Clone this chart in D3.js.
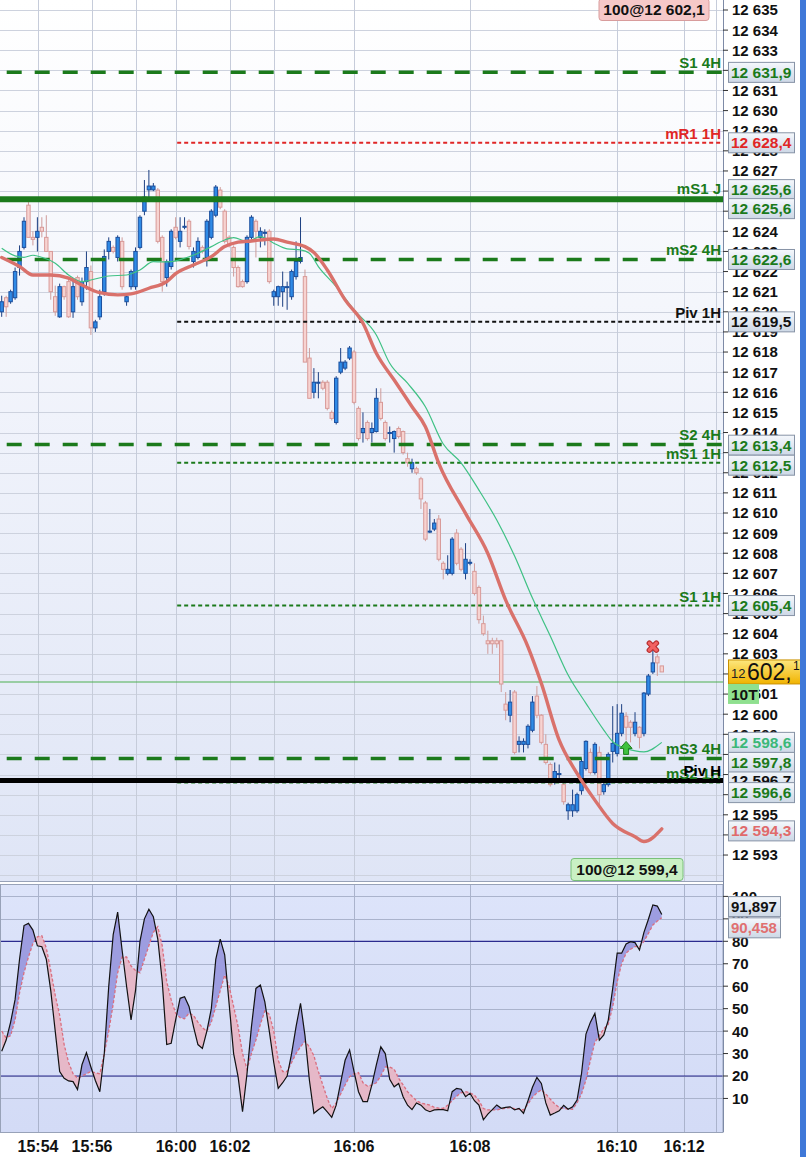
<!DOCTYPE html>
<html>
<head>
<meta charset="utf-8">
<script src="https://cdnjs.cloudflare.com/ajax/libs/d3/7.8.5/d3.min.js"></script>
<style>
html,body{margin:0;padding:0;background:#ffffff;overflow:hidden;}
svg{display:block;}
text{font-family:"Liberation Sans",Arial,sans-serif;}
</style>
</head>
<body>
<svg id="chart" width="806" height="1157"></svg>
<script>
// ---------------- DATA ----------------
const opens=[12620.0,12620.7,12620.5,12620.7,12622.2,12623.2,12625.3,12623.7,12623.7,12624.2,
12623.7,12623.0,12620.75,12619.75,12621.25,12621.5,12620.0,12621.7,12620.5,12621.5,
12622.0,12619.2,12619.75,12621.0,12623.0,12623.2,12622.7,12623.5,12620.5,12621.25,
12621.25,12623.2,12625.0,12626.06,12626.06,12626.05,12623.7,12621.7,12622.25,12624.2,
12623.5,12624.2,12624.5,12622.5,12622.7,12623.2,12622.7,12623.7,12624.8,12626.05,
12625.0,12623.7,12623.2,12622.2,12621.5,12621.5,12623.7,12624.5,12623.7,12623.9,
12624.0,12620.75,12620.75,12621.0,12621.2,12620.75,12621.75,12622.5,12621.75,12617.7,
12616.0,12616.45,12616.5,12616.5,12615.0,12614.5,12617.0,12617.2,12617.7,12618.0,
12615.2,12614.0,12614.5,12614.0,12614.05,12615.5,12614.5,12614.0,12613.7,12614.2,
12614.05,12612.7,12612.2,12612.2,12611.7,12610.5,12609.05,12609.2,12609.7,12607.5,
12607.0,12607.0,12609.0,12608.2,12607.0,12607.5,12607.1,12606.3,12604.5,12603.65,
12603.65,12603.65,12603.65,12600.5,12599.95,12601.1,12598.5,12598.5,12598.5,12599.2,
12600.9,12599.95,12598.5,12597.5,12596.8,12597.0,12596.5,12595.2,12595.2,12595.2,
12596.2,12597.3,12598.1,12597.1,12598.1,12596.15,12596.5,12598.15,12598.05,12599.05,
12599.9,12599.6,12599.05,12599.35,12599.05,12601.0,12602.1,12602.85,12602.4];
const highs=[12620.8,12620.8,12621.1,12622.2,12623.3,12624.7,12625.5,12624.0,12624.7,12624.7,
12624.8,12623.0,12621.3,12621.4,12621.3,12621.7,12621.6,12621.8,12621.7,12623.0,
12622.3,12619.6,12621.1,12623.1,12623.7,12623.3,12623.8,12623.7,12620.9,12622.1,
12623.2,12624.8,12626.55,12627.05,12626.4,12626.15,12623.8,12622.6,12624.1,12624.7,
12624.7,12624.7,12624.6,12623.2,12623.7,12623.3,12624.6,12625.1,12626.3,12626.2,
12625.1,12623.8,12623.3,12622.3,12621.6,12623.8,12624.8,12624.6,12624.2,12624.1,
12624.1,12621.1,12621.3,12622.0,12621.5,12622.1,12623.5,12624.7,12622.1,12618.2,
12617.2,12617.0,12616.6,12616.6,12615.1,12616.8,12618.2,12617.6,12618.3,12618.1,
12615.3,12615.0,12614.6,12614.5,12616.2,12616.2,12614.6,12614.3,12614.1,12614.3,
12614.1,12613.0,12612.7,12612.3,12611.8,12610.6,12610.2,12609.7,12609.9,12607.6,
12607.9,12608.8,12609.2,12608.3,12608.5,12607.7,12607.5,12606.4,12604.9,12604.15,
12603.8,12603.8,12603.7,12601.1,12601.2,12601.2,12598.9,12598.8,12599.5,12600.9,
12601.4,12600.0,12599.0,12597.6,12597.6,12597.5,12596.6,12595.6,12596.25,12596.1,
12597.8,12598.7,12598.3,12598.6,12598.4,12596.6,12598.1,12600.4,12600.5,12600.5,
12600.1,12599.7,12600.1,12599.4,12601.1,12602.0,12603.2,12603.0,12602.4];
const lows=[12619.75,12619.75,12620.4,12620.6,12621.8,12623.1,12623.7,12623.3,12623.0,12623.7,
12623.0,12620.6,12619.8,12619.7,12620.6,12619.7,12619.7,12620.6,12620.3,12621.1,
12618.85,12619.0,12619.6,12620.8,12622.6,12622.9,12622.5,12621.1,12620.3,12621.1,
12621.1,12623.1,12624.8,12625.56,12626.0,12623.4,12621.0,12621.25,12622.1,12623.6,
12623.2,12624.1,12623.1,12622.2,12622.6,12622.9,12622.25,12623.6,12624.7,12625.1,
12623.4,12623.2,12621.75,12621.2,12621.2,12621.4,12623.6,12622.7,12623.2,12623.3,
12621.4,12620.3,12620.3,12620.25,12620.1,12620.6,12621.6,12622.4,12617.5,12615.7,
12615.7,12615.7,12616.1,12615.1,12614.6,12614.4,12616.9,12617.1,12617.6,12615.4,
12613.6,12613.5,12613.6,12613.5,12614.0,12614.6,12613.6,12613.5,12613.0,12613.7,
12612.9,12612.3,12612.0,12611.9,12610.2,12608.6,12609.0,12609.1,12607.6,12606.7,
12606.9,12606.9,12607.4,12607.1,12606.7,12607.4,12605.9,12604.5,12603.9,12603.0,
12603.0,12603.3,12601.1,12599.7,12599.6,12598.0,12598.1,12598.1,12598.3,12599.1,
12599.8,12598.5,12597.5,12596.4,12596.5,12596.6,12595.5,12594.75,12594.9,12595.1,
12596.0,12597.2,12597.0,12597.0,12595.45,12596.0,12596.4,12597.6,12597.9,12598.9,
12598.7,12598.6,12598.9,12598.3,12598.9,12600.9,12602.0,12601.9,12602.1];
const closes=[12620.5,12620.25,12621.0,12622.0,12623.0,12624.5,12623.7,12623.6,12624.0,12624.0,
12623.0,12621.0,12620.0,12621.25,12620.75,12619.75,12621.25,12620.75,12621.5,12622.2,
12619.2,12619.5,12620.75,12622.75,12623.5,12623.0,12623.7,12621.25,12620.75,12622.0,
12623.0,12624.7,12625.7,12626.25,12626.25,12623.5,12621.5,12622.5,12624.0,12623.7,
12624.0,12624.25,12623.25,12623.0,12623.5,12623.0,12624.5,12625.0,12626.2,12625.2,
12623.5,12623.3,12622.2,12621.25,12621.25,12623.7,12624.7,12624.0,12624.0,12623.95,
12621.5,12621.0,12621.25,12621.25,12621.25,12622.0,12622.5,12622.7,12617.5,12615.7,
12616.5,12616.5,12616.2,12615.2,12614.7,12616.7,12617.5,12617.5,12618.2,12615.5,
12613.7,12614.2,12613.7,12614.2,12615.7,12614.7,12613.7,12614.0,12614.05,12613.8,
12613.0,12612.5,12612.5,12612.0,12610.7,12608.7,12609.1,12609.5,12607.7,12607.2,
12607.2,12608.7,12607.5,12607.2,12607.7,12607.55,12606.0,12604.7,12604.0,12603.5,
12603.5,12603.5,12601.5,12600.2,12600.6,12598.1,12598.65,12598.65,12599.4,12600.6,
12599.95,12598.6,12597.6,12596.5,12597.15,12597.05,12595.65,12595.5,12595.5,12596.0,
12597.65,12598.65,12597.1,12598.5,12596.0,12596.5,12598.0,12598.55,12599.05,12600.05,
12599.35,12599.35,12599.6,12598.85,12601.05,12601.9,12602.55,12602.55,12602.1];

const slowMaBars=[0,4,7,11,15,18,22,26,29,33,37,39,43,47,50,53,56,61,64,68,70,73,77,81,84,88,92,95,98,104,109,113,118,121,125,129,133,137,142,144,148];
const slowMaVals=[12622.7,12622.25,12621.83,12621.83,12621.67,12621.33,12620.95,12620.84,12620.89,12621.17,12621.5,12621.9,12622.33,12622.74,12623.24,12623.46,12623.52,12623.62,12623.46,12623.24,12622.95,12622.08,12620.59,12619.43,12617.94,12616.61,12615.28,12614.29,12612.47,12609.98,12607.99,12605.67,12603.35,12601.53,12598.71,12597.06,12595.73,12594.57,12593.91,12593.67,12594.3];
const fastMaBars=[0,3,5,7,9,12,15,18,20,24,28,31,34,36,38,41,44,47,50,52,55,58,61,64,67,69,71,75,79,84,87,91,95,99,103,107,111,115,119,123,127,131,135,137,140,144,148];
const fastMaVals=[12623.16,12622.78,12622.71,12622.81,12622.71,12622.41,12621.83,12621.5,12621.58,12621.78,12621.83,12622.08,12622.49,12622.48,12622.49,12622.66,12622.91,12623.24,12623.57,12623.69,12623.49,12623.74,12623.41,12623.13,12623.08,12622.91,12622.25,12621.25,12620.09,12618.85,12617.44,12616.45,12615.28,12613.43,12612.49,12611.14,12609.65,12607.86,12605.77,12603.89,12601.95,12600.54,12599.21,12598.63,12598.3,12598.13,12598.6];

const stochK=[31,36,44,54,72,87,88,85,78,77.6,72,58,40,22,19,17.8,17.5,14,25,30.4,
24,18,13,30,60,83,93,76,60,45,58,80,90,94.3,91,81,62,34,34.6,45,
54.6,55.3,51,42,34,32.3,40,50,72,81,74,52,30,19.7,4.1,21,42,59,60.5,53,
40,26,14.5,17,20,30,42,52.4,38,18,3.4,5,6.3,4,1.6,7,17,27,31.6,22,
13,8.6,8.6,16,25,33,30,18.5,15.2,16.7,10.8,7,5,8,7,5,4.1,4.9,5,5,
4.5,13,14.5,14.1,10.8,12.3,9,7,0.5,3,5,7.1,5.6,6,6.3,4.9,5.6,3.4,9,15,
19.4,16.7,8,2.6,3.5,4.5,6.9,5.2,6.3,9.3,21,38.7,44,47.9,36,38.3,44.9,59.1,74.7,74.7,
78.8,79.8,79.4,76.1,84,89.8,96.2,95.7,91.9];
const stochD=[40,37,38,45,57,66,73,79,82,82.5,77,67,56,47,34,26,21,19,20,21,
22,21.5,21,30,40,52,66,73,73,69,67,66,72,78,84,86.5,78,62,54,48,
46,45.5,48,47,44,41.5,40,44,51,58,65,60,51,42,30,23,30,36,43,49,
47.5,40,27,22,22,26,30,33,35.5,33,29,22,16,10,5.5,8,12,16,19.7,21,
21.5,17,15.5,16,17,20,24,24,23,19,16,13,11,9,8,7.5,7,6,5.7,5.6,
7,9,11,12.5,13,12.5,11.5,9,5.5,4.9,4.9,4.9,5.3,5.6,5.9,5.5,5.2,4.9,7.5,10.5,
12.5,13.8,12,9.7,7.5,6,5.5,5.3,5.2,8,12,18.2,27,35,38,41,43,50.9,62,70,
74.7,76.5,77.6,77.6,80,83.5,87.3,89,90.5];

const levelNames=["S1 4H","mR1 1H","mS1 J","mS2 4H","Piv 1H","S2 4H","mS1 1H","S1 1H","mS3 4H","mS2 1H","Piv H"];
const levelValues=[12631.9,12628.4,12625.6,12622.6,12619.5,12613.4,12612.5,12605.4,12597.8,12596.6,12596.7];
const levelFrames=["4H","1H","J","4H","1H","4H","1H","1H","4H","1H","H"];

const timeTickBars=[8.14,20.25,30.1,39.1,51.2,61.05,79.0,105.0,137.96,153.0,160.2];
const timeTickLabels=["15:54","15:56","15:58","16:00","16:02","16:04","16:06","16:08","16:10","16:12","16:14"];
const timeTickShown=[true,true,false,true,true,false,true,true,true,true,false];
const priceTicks=d3.range(12593,12636);
const oscTicks=[10,20,30,40,50,60,70,80,90,100];
const oscBands=[20,80];
const lastPrice=12602.1, topOrder="100@12 602,1", bottomOrder="100@12 599,4";
const refLinePrice=12601.6;
const barSize="10T";
const signalArrow={bar:140,price:12598.3};
const signalCross={bar:146,price:12603.36};
const oscLastK=91.897, oscLastD=90.458;

// ---------------- LAYOUT ----------------
const PR=723, MAIN_B=881, OSC_T=884, OSC_B=1132;
const GREEN="#1b7a1b", RED="#e02626", BLACK="#111111";
const svg=d3.select("#chart");
const x=d3.scaleLinear().domain([0,148]).range([1.7,1.7+148*4.46]);
const y=d3.scaleLinear().domain([12593,12635]).range([855.04,10]);
const yo=d3.scaleLinear().domain([0,100]).range([1120.9,896.4]);

const fmtP=v=>{const s=v.toFixed(1).split(".");return s[0].slice(0,2)+" "+s[0].slice(2)+","+s[1];};
const fmtI=v=>{const s=String(v);return s.slice(0,2)+" "+s.slice(2);};

const defs=svg.append("defs");
function vgrad(id,stops){const g=defs.append("linearGradient").attr("id",id).attr("x1",0).attr("y1",0).attr("x2",0).attr("y2",1);
  stops.forEach(s=>g.append("stop").attr("offset",s[0]).attr("stop-color",s[1]));}
vgrad("mainBg",[[0,"#ffffff"],[1,"#dfe5f6"]]);
vgrad("oscBg",[[0,"#dde4fa"],[1,"#d3dbf6"]]);
vgrad("boxBg",[[0,"#f5f8fc"],[1,"#cdd8e6"]]);
vgrad("goldBg",[[0,"#fde77e"],[1,"#f1b300"]]);
defs.append("clipPath").attr("id","mainClip").append("rect").attr("x",0).attr("y",0).attr("width",PR).attr("height",MAIN_B);
defs.append("clipPath").attr("id","oscClip").append("rect").attr("x",0).attr("y",OSC_T).attr("width",PR).attr("height",OSC_B-OSC_T);

svg.append("rect").attr("width",806).attr("height",1157).attr("fill","#ffffff");

// ---------------- MAIN PANEL ----------------
const main=svg.append("g").attr("clip-path","url(#mainClip)");
main.append("rect").attr("x",0).attr("y",0).attr("width",PR).attr("height",MAIN_B).attr("fill","url(#mainBg)");
main.selectAll("line.hg").data(d3.range(12592,12636)).join("line").attr("class","hg")
  .attr("x1",0).attr("x2",PR).attr("y1",d=>Math.round(y(d))+0.5).attr("y2",d=>Math.round(y(d))+0.5)
  .attr("stroke","#cdd2de").attr("stroke-width",1);
main.selectAll("line.vg").data(timeTickBars).join("line").attr("class","vg")
  .attr("x1",d=>Math.round(x(d))+0.5).attr("x2",d=>Math.round(x(d))+0.5).attr("y1",0).attr("y2",MAIN_B)
  .attr("stroke","#c6ccda").attr("stroke-width",1);
main.append("line").attr("x1",0).attr("x2",PR).attr("y1",y(refLinePrice)).attr("y2",y(refLinePrice))
  .attr("stroke","#4caf50").attr("stroke-width",1);

// candles
const bars=d3.range(opens.length);
const cg=main.append("g");
cg.selectAll("line.wick").data(bars).join("line").attr("class","wick")
  .attr("x1",i=>x(i)).attr("x2",i=>x(i)).attr("y1",i=>y(highs[i])).attr("y2",i=>y(lows[i]))
  .attr("stroke",i=>closes[i]>=opens[i]?"#1c3f82":"#cf9c9a").attr("stroke-width",1);
cg.selectAll("rect.body").data(bars).join("rect").attr("class","body")
  .attr("x",i=>x(i)-1.7).attr("width",3.4)
  .attr("y",i=>y(Math.max(opens[i],closes[i])))
  .attr("height",i=>Math.max(1,Math.abs(y(opens[i])-y(closes[i]))))
  .attr("fill",i=>closes[i]>=opens[i]?"#2f8ae6":"#f7d3d1")
  .attr("stroke",i=>closes[i]>=opens[i]?"#1b4f9e":"#d89a98").attr("stroke-width",1);

// levels
const levels=levelNames.map((n,i)=>({name:n,value:levelValues[i],frame:levelFrames[i]}));
function levelStyle(l){
  const color=l.name.startsWith("Piv")?BLACK:(l.name.indexOf("R")>=0?RED:GREEN);
  if(l.frame==="4H") return {color,width:3.5,dash:"15,13",offset:-6.7,start:0};
  if(l.frame==="1H") return {color,width:2,dash:"4,3",offset:0,start:x(timeTickBars[3])};
  if(l.frame==="J") return {color,width:6,dash:null,offset:0,start:0};
  return {color:"#000",width:5,dash:null,offset:0,start:0};
}
const lg=main.append("g");
levels.forEach(l=>{const s=levelStyle(l);
  lg.append("line").attr("x1",s.start).attr("x2",PR).attr("y1",y(l.value)).attr("y2",y(l.value))
    .attr("stroke",s.color).attr("stroke-width",s.width)
    .attr("stroke-dasharray",s.dash).attr("stroke-dashoffset",s.dash?(s.offset-s.start):null);
});

// moving averages
const curve=d3.line().curve(d3.curveMonotoneX);
main.append("path").attr("d",curve(fastMaBars.map((b,i)=>[x(b),y(fastMaVals[i])])))
  .attr("fill","none").attr("stroke","#3fc184").attr("stroke-width",1.2);
main.append("path").attr("d",curve(slowMaBars.map((b,i)=>[x(b),y(slowMaVals[i])])))
  .attr("fill","none").attr("stroke","#d9716b").attr("stroke-width",3.4).attr("stroke-linecap","round");

// level labels
levels.forEach(l=>{const s=levelStyle(l);
  main.append("text").attr("x",721).attr("y",y(l.value)-s.width/2-2.5).attr("text-anchor","end")
    .attr("font-size",15).attr("font-weight","bold").attr("fill",s.color).text(l.name);
});

// signals
const ax=x(signalArrow.bar), ay=y(signalArrow.price);
main.append("path").attr("d",`M${ax},${ay-7} L${ax+6},${ay} L${ax+2.5},${ay} L${ax+2.5},${ay+6} L${ax-2.5},${ay+6} L${ax-2.5},${ay} L${ax-6},${ay} Z`)
  .attr("fill","#3fc23f").attr("stroke","#1d7d1d").attr("stroke-width",1);
const cx=x(signalCross.bar), cy=y(signalCross.price);
[["#b83030",5.5],["#f26262",3.2]].forEach(([c,w])=>{
  main.append("path").attr("d",`M${cx-3.5},${cy-3.5}L${cx+3.5},${cy+3.5}M${cx+3.5},${cy-3.5}L${cx-3.5},${cy+3.5}`)
   .attr("stroke",c).attr("stroke-width",w).attr("stroke-linecap","round").attr("fill","none");
});

// order boxes
function orderBox(cxp,cyp,w,txt,fill,stroke){
  svg.append("rect").attr("x",cxp-w/2).attr("y",cyp-11).attr("width",w).attr("height",22).attr("rx",3)
    .attr("fill",fill).attr("stroke",stroke);
  svg.append("text").attr("x",cxp).attr("y",cyp).attr("dy","0.36em").attr("text-anchor","middle")
    .attr("font-size",15.5).attr("font-weight","bold").attr("fill","#111").text(txt);
}
orderBox(654,9.5,110,topOrder,"#f6c8c8","#d89c9c");
orderBox(627,869.5,112,bottomOrder,"#c9f0c4","#79c079");

svg.append("line").attr("x1",0).attr("x2",PR).attr("y1",MAIN_B+0.5).attr("y2",MAIN_B+0.5).attr("stroke","#98a2b8");

// ---------------- OSCILLATOR ----------------
const osc=svg.append("g").attr("clip-path","url(#oscClip)");
osc.append("rect").attr("x",0).attr("y",OSC_T).attr("width",PR).attr("height",OSC_B-OSC_T).attr("fill","url(#oscBg)");
osc.selectAll("line.og").data(oscTicks).join("line").attr("class","og")
  .attr("x1",0).attr("x2",PR).attr("y1",d=>Math.round(yo(d))+0.5).attr("y2",d=>Math.round(yo(d))+0.5)
  .attr("stroke","#aab3cc").attr("stroke-width",1);
osc.selectAll("line.ovg").data(timeTickBars).join("line").attr("class","ovg")
  .attr("x1",d=>Math.round(x(d))+0.5).attr("x2",d=>Math.round(x(d))+0.5).attr("y1",OSC_T).attr("y2",OSC_B)
  .attr("stroke","#aab3cc").attr("stroke-width",1);
osc.selectAll("line.band").data(oscBands).join("line").attr("class","band")
  .attr("x1",0).attr("x2",PR).attr("y1",d=>yo(d)).attr("y2",d=>yo(d))
  .attr("stroke","#2b2b8f").attr("stroke-width",1.2);

defs.append("clipPath").attr("id","aboveD").append("path")
  .attr("d",d3.area().x((d,i)=>x(i)).y0(OSC_T).y1(d=>yo(d))(stochD));
defs.append("clipPath").attr("id","belowD").append("path")
  .attr("d",d3.area().x((d,i)=>x(i)).y0(d=>yo(d)).y1(OSC_B)(stochD));
osc.append("path").attr("clip-path","url(#aboveD)")
  .attr("d",d3.area().x((d,i)=>x(i)).y0(d=>yo(d)).y1(OSC_B)(stochK)).attr("fill","#9d9de0");
osc.append("path").attr("clip-path","url(#belowD)")
  .attr("d",d3.area().x((d,i)=>x(i)).y0(OSC_T).y1(d=>yo(d))(stochK)).attr("fill","#e6b8c8");
osc.append("path").attr("d",d3.line().x((d,i)=>x(i)).y(d=>yo(d))(stochD))
  .attr("fill","none").attr("stroke","#d96f80").attr("stroke-width",1.3).attr("stroke-dasharray","3,2");
osc.append("path").attr("d",d3.line().x((d,i)=>x(i)).y(d=>yo(d))(stochK))
  .attr("fill","none").attr("stroke","#111").attr("stroke-width",1.2);

svg.append("rect").attr("x",0.5).attr("y",OSC_T+0.5).attr("width",PR-0.5).attr("height",OSC_B-OSC_T)
  .attr("fill","none").attr("stroke","#98a2b8");

// ---------------- AXES ----------------
svg.append("line").attr("x1",PR+0.5).attr("x2",PR+0.5).attr("y1",0).attr("y2",OSC_B).attr("stroke","#7d8aa6");
const pa=svg.append("g");
pa.selectAll("line").data(priceTicks).join("line")
  .attr("x1",PR).attr("x2",PR+5).attr("y1",d=>y(d)).attr("y2",d=>y(d)).attr("stroke","#333");
pa.selectAll("text").data(priceTicks).join("text")
  .attr("x",732).attr("y",d=>y(d)).attr("dy","0.36em").attr("font-size",15).attr("font-weight","bold")
  .attr("fill","#111").text(d=>fmtI(d));
const oa=svg.append("g");
oa.selectAll("line").data(oscTicks).join("line")
  .attr("x1",PR).attr("x2",PR+5).attr("y1",d=>yo(d)).attr("y2",d=>yo(d)).attr("stroke","#333");
oa.selectAll("text").data(oscTicks).join("text")
  .attr("x",732).attr("y",d=>yo(d)).attr("dy","0.36em").attr("font-size",15).attr("font-weight","bold")
  .attr("fill","#111").text(d=>d);
svg.selectAll("text.tl").data(timeTickBars.map((b,i)=>({b,l:timeTickLabels[i],s:timeTickShown[i]})).filter(d=>d.s))
  .join("text").attr("class","tl").attr("x",d=>x(d.b)).attr("y",1146).attr("dy","0.36em")
  .attr("text-anchor","middle").attr("font-size",16).attr("font-weight","bold").attr("fill","#111").text(d=>d.l);

// value boxes
function valBox(cyp,txt,color,w){
  w=w||66;
  svg.append("rect").attr("x",728.5).attr("y",cyp-10).attr("width",w).attr("height",20)
    .attr("fill","url(#boxBg)").attr("stroke","#8793a6");
  svg.append("text").attr("x",731).attr("y",cyp).attr("dy","0.36em").attr("font-size",15.5)
    .attr("font-weight","bold").attr("fill",color).text(txt);
}
const nudge={"mS1 J":[-9.5,9.5],"S2 4H":[0.6],"mS1 1H":[2.5],"mS3 4H":[3.5],"mS2 1H":[10],"Piv H":[0]};
const order=["Piv H","S1 4H","mR1 1H","mS1 J","mS2 4H","Piv 1H","S2 4H","mS1 1H","S1 1H","mS3 4H","mS2 1H"];
order.forEach(n=>{const l=levels.find(d=>d.name===n);const s=levelStyle(l);
  (nudge[n]||[0]).forEach(dy=>valBox(y(l.value)+dy,fmtP(l.value),s.color==="#000"?BLACK:s.color));
});
valBox(y(fastMaVals[fastMaVals.length-1]),fmtP(fastMaVals[fastMaVals.length-1]),"#3cb878");
valBox(y(slowMaVals[slowMaVals.length-1])+2,fmtP(slowMaVals[slowMaVals.length-1]),"#e06a6a");

// last price gold box
const gy=y(lastPrice);
svg.append("rect").attr("x",728.5).attr("y",gy-12).attr("width",72).attr("height",24)
  .attr("fill","url(#goldBg)").attr("stroke","#c99000");
const lp=fmtP(lastPrice).split(" "); // ["12","602,1"]
svg.append("text").attr("x",731).attr("y",gy+6).attr("font-size",13).attr("fill","#222").text(lp[0]);
svg.append("text").attr("x",747).attr("y",gy+8.5).attr("font-size",23).attr("fill","#111").text(lp[1].split(",")[0]+",");
svg.append("text").attr("x",793).attr("y",gy-2).attr("font-size",12).attr("fill","#111").text(lp[1].split(",")[1]);
svg.append("rect").attr("x",728).attr("y",gy+12).attr("width",31).attr("height",20).attr("fill","#8fe08f");
svg.append("text").attr("x",731).attr("y",gy+22).attr("dy","0.36em").attr("font-size",15.5).attr("font-weight","bold")
  .attr("fill","#111").text(barSize);

// oscillator value boxes
function oscBox(cyp,txt,color){
  svg.append("rect").attr("x",728.5).attr("y",cyp-10).attr("width",52).attr("height",20)
    .attr("fill","url(#boxBg)").attr("stroke","#8793a6");
  svg.append("text").attr("x",731).attr("y",cyp).attr("dy","0.36em").attr("font-size",15)
    .attr("font-weight","bold").attr("fill",color).text(txt);
}
oscBox(yo(oscLastK)-8,oscLastK.toFixed(3).replace(".",","),"#111");
oscBox(yo(oscLastD)+10,oscLastD.toFixed(3).replace(".",","),"#e07070");

// right frame border
svg.append("rect").attr("x",800).attr("y",0).attr("width",6).attr("height",1157).attr("fill","#3f78d8");
</script>
</body>
</html>
